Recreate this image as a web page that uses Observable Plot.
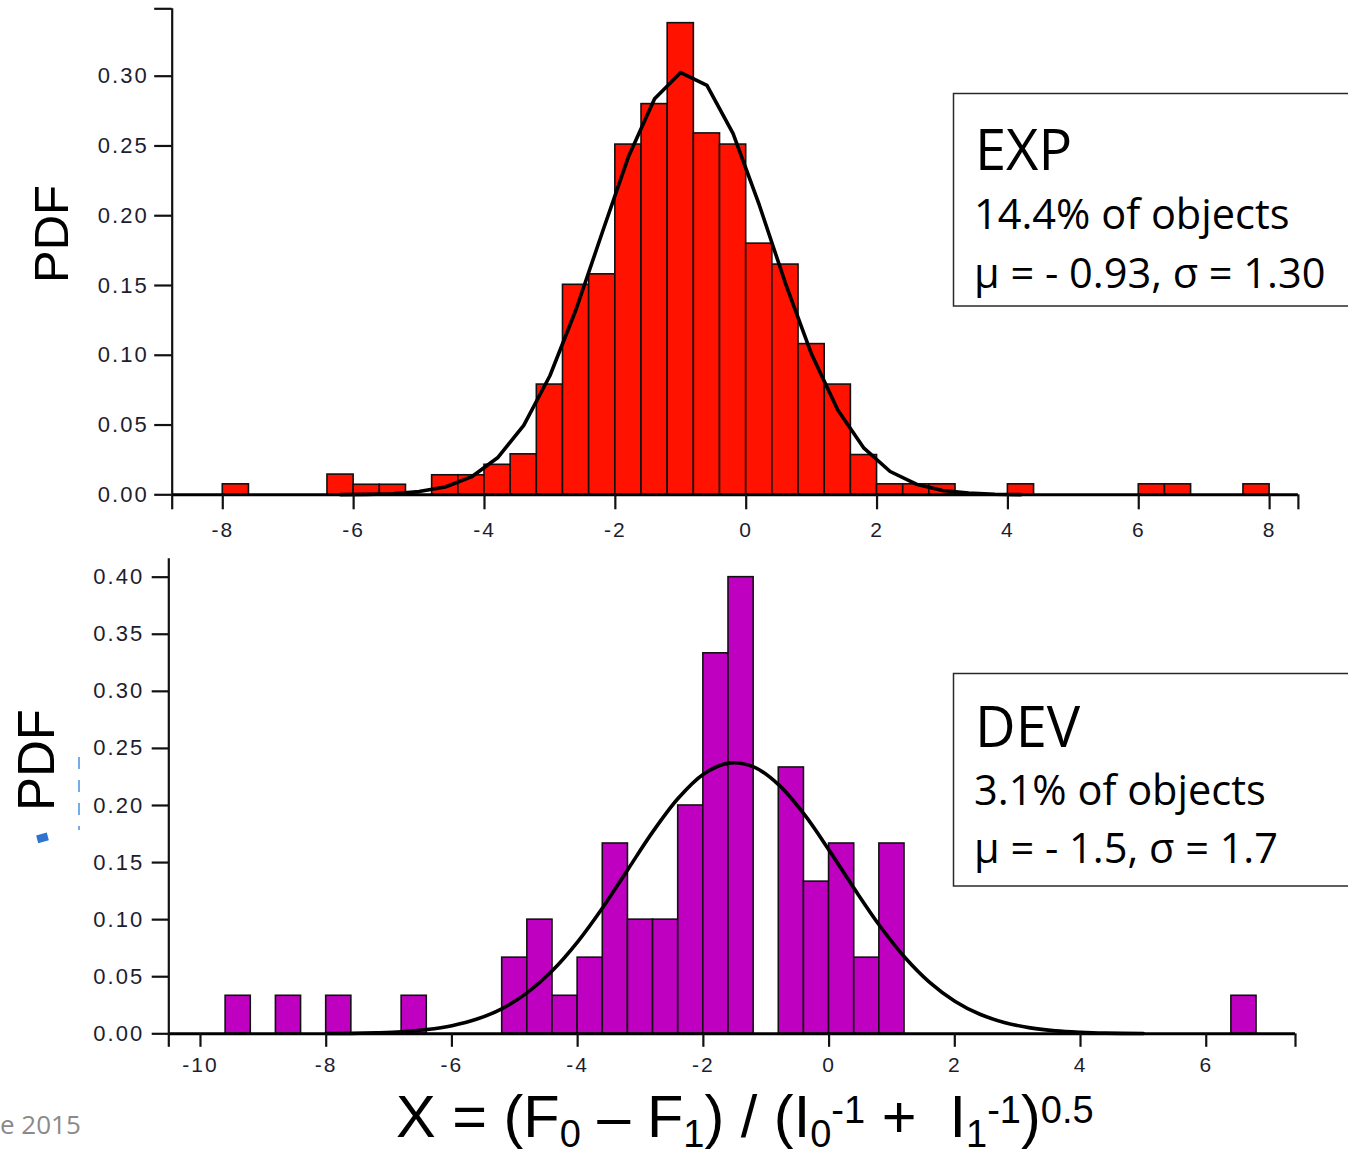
<!DOCTYPE html>
<html><head><meta charset="utf-8">
<script src="https://cdn.jsdelivr.net/npm/d3@7"></script>
<script src="https://cdn.jsdelivr.net/npm/@observablehq/plot@0.6"></script>
<style>
html,body{margin:0;padding:0;background:#fff;}
#page{position:relative;width:1348px;height:1155px;overflow:hidden;background:#fff;}
.chart{position:absolute;left:0;}
#overlay{position:absolute;left:0;top:0;}
</style></head>
<body><div id="page"><div id="topChart" class="chart" style="top:0px"></div><div id="botChart" class="chart" style="top:540px"></div></div>
<script>
// ---- data ----
const binWidth = 0.4;
// EXP histogram: left bin edges and PDF values
const expBinStart = [-8.0,-6.4,-6.0,-5.6,-4.8,-4.4,-4.0,-3.6,-3.2,-2.8,-2.4,-2.0,-1.6,-1.2,-0.8,-0.4,0.0,0.4,0.8,1.2,1.6,2.0,2.4,2.8,4.0,6.0,6.4,7.6];
const expPdf = [0.0075,0.0145,0.0072,0.0072,0.014,0.014,0.0215,0.029,0.079,0.1505,0.158,0.251,0.280,0.338,0.259,0.251,0.180,0.165,0.108,0.079,0.0285,0.0075,0.0075,0.0075,0.0075,0.0075,0.0075,0.0075];
// EXP fitted curve (mu=-0.93, sigma=1.30)
const expCurveX = [-6.2,-5.8,-5.4,-5.0,-4.6,-4.2,-3.8,-3.4,-3.0,-2.6,-2.2,-1.8,-1.4,-1.0,-0.6,-0.2,0.2,0.6,1.0,1.4,1.8,2.2,2.6,3.0,3.4,3.8,4.2];
const expCurveY = [0.0001,0.0003,0.0008,0.0023,0.0056,0.0128,0.0265,0.0498,0.0853,0.1328,0.188,0.2422,0.2838,0.3026,0.2934,0.2588,0.2077,0.1516,0.1007,0.0608,0.0334,0.0167,0.0076,0.0031,0.0012,0.0004,0.0001];
// DEV histogram
const devBinStart = [-9.6,-8.8,-8.0,-6.8,-5.2,-4.8,-4.4,-4.0,-3.6,-3.2,-2.8,-2.4,-2.0,-1.6,-0.8,-0.4,0.0,0.4,0.8,6.4];
const devPdf = [0.0333,0.0333,0.0333,0.0333,0.0667,0.1,0.0333,0.0667,0.1667,0.1,0.1,0.2,0.3333,0.4,0.2333,0.1333,0.1667,0.0667,0.1667,0.0333];
// DEV fitted curve (mu=-1.5, sigma=1.7)
const devCurveX = [-8.0,-7.6,-7.2,-6.8,-6.4,-6.0,-5.6,-5.2,-4.8,-4.4,-4.0,-3.6,-3.2,-2.8,-2.4,-2.0,-1.6,-1.2,-0.8,-0.4,0.0,0.4,0.8,1.2,1.6,2.0,2.4,2.8,3.2,3.6,4.0,4.4,5.0];
const devCurveY = [0.0002,0.0004,0.0009,0.0018,0.0037,0.0071,0.0129,0.0221,0.0361,0.0554,0.0805,0.1106,0.1440,0.1773,0.2063,0.2274,0.2371,0.2338,0.2181,0.1926,0.1609,0.1272,0.0951,0.0673,0.0451,0.0286,0.0171,0.0097,0.0052,0.0026,0.0013,0.0006,0.0002];
// axis ticks
const expXTicks = [-8,-6,-4,-2,0,2,4,6,8];
const expYTicks = [0,0.05,0.10,0.15,0.20,0.25,0.30];
const devXTicks = [-10,-8,-6,-4,-2,0,2,4,6];
const devYTicks = [0,0.05,0.10,0.15,0.20,0.25,0.30,0.35,0.40];
const expXDomain = [-8.773, 8.44], expYDomain = [0, 0.3483];
const devXDomain = [-10.504, 7.42], devYDomain = [0, 0.4161];

const labelFont = "'Liberation Sans', Arial, Helvetica, sans-serif";

function histChart({bins, pdf, cx, cy, fill, xDomain, yDomain, xTicks, yTicks, height, mTop, mBottom, mLeft, mRight, xTickSize, xPad, yTickSize, yPad, topTick, curve}) {
  const rows = bins.map((x0, i) => ({x0, x1: x0 + binWidth, pdf: pdf[i]}));
  const line = cx.map((x, i) => ({x, y: cy[i]}));
  const xt = [xDomain[0], ...xTicks, xDomain[1]];
  const yt = topTick ? [...yTicks, yDomain[1]] : yTicks;
  return Plot.plot({
    width: 1348, height,
    marginTop: mTop, marginBottom: mBottom, marginLeft: mLeft, marginRight: mRight,
    style: {background: "transparent", fontFamily: labelFont, letterSpacing: "2px", overflow: "visible"},
    x: {domain: xDomain, axis: null},
    y: {domain: yDomain, axis: null},
    marks: [
      Plot.rectY(rows, {x1: "x0", x2: "x1", y: "pdf", fill, stroke: "#111", strokeWidth: 1.6}),
      Plot.line(line, {x: "x", y: "y", stroke: "#000", strokeWidth: 3.6, curve}),
      Plot.ruleY([0], {stroke: "#000", strokeWidth: 3}),
      Plot.ruleX([xDomain[0]], {stroke: "#111", strokeWidth: 2.2}),
      Plot.axisX({anchor: "bottom", ticks: xt, tickSize: xTickSize, tickPadding: xPad, stroke: "#111", strokeWidth: 2.2,
        tickFormat: d => xTicks.includes(d) ? String(d) : "", fontSize: 21, fill: "#1d1d30", label: null}),
      Plot.axisY({anchor: "left", ticks: yt, tickSize: yTickSize, tickPadding: yPad, stroke: "#111", strokeWidth: 2.2,
        tickFormat: d => yTicks.includes(d) ? d.toFixed(2) : "", fontSize: 22, fill: "#1d1d30", label: null})
    ]
  });
}

document.getElementById("topChart").appendChild(histChart({
  bins: expBinStart, pdf: expPdf, cx: expCurveX, cy: expCurveY, fill: "#ff1200",
  xDomain: expXDomain, yDomain: expYDomain, xTicks: expXTicks, yTicks: expYTicks,
  height: 550, mTop: 8.3, mBottom: 55.7, mLeft: 171.7, mRight: 50.1,
  xTickSize: 15, xPad: 12, yTickSize: 17.5, yPad: 6, topTick: true, curve: "linear"
}));
document.getElementById("botChart").appendChild(histChart({
  bins: devBinStart, pdf: devPdf, cx: devCurveX, cy: devCurveY, fill: "#bf00c0",
  xDomain: devXDomain, yDomain: devYDomain, xTicks: devXTicks, yTicks: devYTicks,
  height: 560, mTop: 18.3, mBottom: 66.7, mLeft: 168.3, mRight: 53,
  xTickSize: 13.5, xPad: 10, yTickSize: 16.6, yPad: 8, topTick: false, curve: "catmull-rom"
}));

// ---- annotations overlay (real text) ----
const NS = "http://www.w3.org/2000/svg";
const ov = document.createElementNS(NS, "svg");
ov.setAttribute("id", "overlay");
ov.setAttribute("width", 1348); ov.setAttribute("height", 1155);
ov.innerHTML = `
  <rect x="953.5" y="93.5" width="500" height="212.5" fill="none" stroke="#2a2a2a" stroke-width="1.5"/>
  <text x="975" y="169.5" font-family="'Open Sans', sans-serif" font-size="56" fill="#000">EXP</text>
  <text x="974" y="229" font-family="'Open Sans', sans-serif" font-size="41.5" fill="#000">14.4% of objects</text>
  <text x="974" y="288.3" font-family="'Open Sans', sans-serif" font-size="41.5" fill="#000">μ = - 0.93, σ = 1.30</text>
  <rect x="953.5" y="673.5" width="500" height="212.5" fill="none" stroke="#2a2a2a" stroke-width="1.5"/>
  <text x="975" y="746.7" font-family="'Open Sans', sans-serif" font-size="56" fill="#000">DEV</text>
  <text x="974" y="805" font-family="'Open Sans', sans-serif" font-size="41.5" fill="#000">3.1% of objects</text>
  <text x="974" y="863.3" font-family="'Open Sans', sans-serif" font-size="41.5" fill="#000">μ = - 1.5, σ = 1.7</text>
  <text transform="translate(68,234) rotate(-90)" text-anchor="middle" font-family="'Liberation Sans', Arial, sans-serif" font-size="49" fill="#000">PDF</text>
  <text transform="translate(54,760) rotate(-90)" text-anchor="middle" font-family="'Liberation Sans', Arial, sans-serif" font-size="51" fill="#000">PDF</text>
  <line x1="79" y1="757" x2="79" y2="830" stroke="#4a90e2" stroke-width="1.5" stroke-dasharray="12 11"/>
  <rect x="37" y="834" width="11" height="8" fill="#2f74d0" transform="rotate(-15 42 838)"/>
  <text x="0" y="1134" font-family="'Open Sans', sans-serif" font-size="26" fill="#8a8a8a">e 2015</text>
  <text x="396" y="1137" font-family="'Liberation Sans', Arial, sans-serif" font-size="59.5" fill="#000" style="white-space:pre">X = (F<tspan font-size="38" dy="10">0</tspan><tspan dy="-10"> – F</tspan><tspan font-size="38" dy="10">1</tspan><tspan dy="-10">) / (I</tspan><tspan font-size="38" dy="10">0</tspan><tspan font-size="38" dy="-24">-1</tspan><tspan dy="14"> +  I</tspan><tspan font-size="38" dy="10">1</tspan><tspan font-size="38" dy="-24">-1</tspan><tspan dy="14">)</tspan><tspan font-size="38" dy="-14">0.5</tspan></text>
`;
document.getElementById("page").appendChild(ov);
</script>
</body></html>
